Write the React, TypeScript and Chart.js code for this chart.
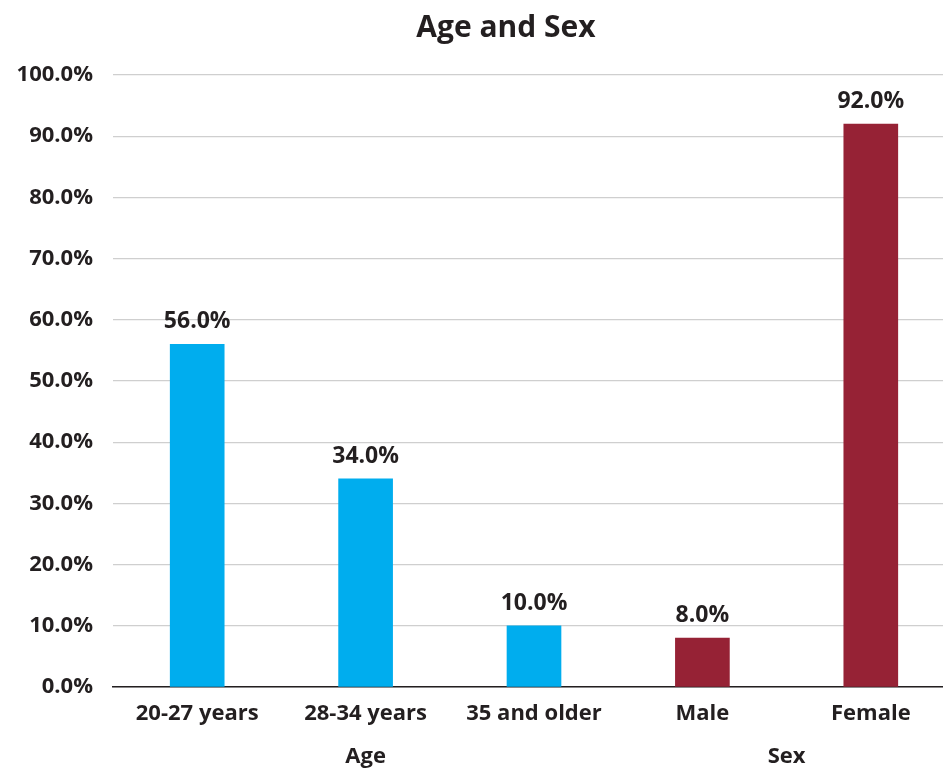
import React, { useEffect, useRef } from "react";
import { Chart, registerables } from "chart.js";

Chart.register(...registerables);

const categories = ["20-27 years", "28-34 years", "35 and older", "Male", "Female"];
const values = [56.0, 34.0, 10.0, 8.0, 92.0];
const barColors = ["#00ADEE", "#00ADEE", "#00ADEE", "#962235", "#962235"];
const groupLabels = ["Age", "Sex"];
const groupRanges = [[0, 2], [3, 4]];
const yTicks = [0, 10, 20, 30, 40, 50, 60, 70, 80, 90, 100];
const titleText = "Age and Sex";

const FONT = "'Open Sans', 'DejaVu Sans', sans-serif";
const TEXT = "#231F20";

export default function App() {
  const ref = useRef<HTMLCanvasElement | null>(null);

  useEffect(() => {
    if (!ref.current) return;
    const overlay = {
      id: "overlay",
      afterDatasetsDraw(chart: any) {
        const ctx = chart.ctx;
        const meta = chart.getDatasetMeta(0);
        ctx.save();
        ctx.fillStyle = TEXT;
        ctx.textAlign = "center";
        ctx.textBaseline = "alphabetic";
        ctx.font = `bold 23px ${FONT}`;
        meta.data.forEach((bar: any, i: number) => {
          ctx.fillText(values[i].toFixed(1) + "%", bar.x, bar.y - 16);
        });
        // group labels
        const xs = chart.scales.x;
        ctx.font = `bold 22px ${FONT}`;
        ctx.textBaseline = "middle";
        groupLabels.forEach((g, i) => {
          const [a, b] = groupRanges[i];
          const cx = (xs.getPixelForValue(a) + xs.getPixelForValue(b)) / 2;
          ctx.fillText(g, cx, chart.chartArea.bottom + 70);
        });
        // title
        ctx.font = `bold 30px ${FONT}`;
        ctx.fillText(titleText, 506, 28);
        ctx.restore();
      },
    };

    const chart = new Chart(ref.current, {
      type: "bar",
      data: {
        labels: categories,
        datasets: [
          {
            data: values,
            backgroundColor: barColors,
            barThickness: 54,
          },
        ],
      },
      options: {
        animation: false,
        responsive: false,
        maintainAspectRatio: false,
        layout: { padding: { top: 75, right: 0, left: 0, bottom: 0 } },
        plugins: {
          legend: { display: false },
          title: { display: false },
          tooltip: { enabled: false },
        },
        scales: {
          x: {
            grid: { display: false, drawTicks: false },
            border: { display: true, color: TEXT, width: 1.5 },
            ticks: {
              color: TEXT,
              font: { family: FONT, size: 22, weight: "bold" },
              padding: 14,
              maxRotation: 0,
              autoSkip: false,
            },
            afterFit(scale: any) {
              scale.height = 82;
            },
          },
          y: {
            min: 0,
            max: 100,
            afterBuildTicks(scale: any) {
              scale.ticks = yTicks.map((v) => ({ value: v }));
            },
            grid: { color: "#CFCFCF", lineWidth: 1.3, drawTicks: false },
            border: { display: false },
            ticks: {
              color: TEXT,
              font: { family: FONT, size: 22, weight: "bold" },
              padding: 20,
              callback: (v: any) => Number(v).toFixed(1) + "%",
            },
            afterFit(scale: any) {
              scale.width = 113;
            },
          },
        },
      },
      plugins: [overlay],
    });
    return () => chart.destroy();
  }, []);

  return (
    <div
      style={{
        position: "fixed",
        left: 0,
        top: 0,
        width: 943,
        height: 769,
        overflow: "hidden",
        background: "#fff",
      }}
    >
      <canvas ref={ref} width={955} height={769} style={{ width: 955, height: 769 }} />
    </div>
  );
}
